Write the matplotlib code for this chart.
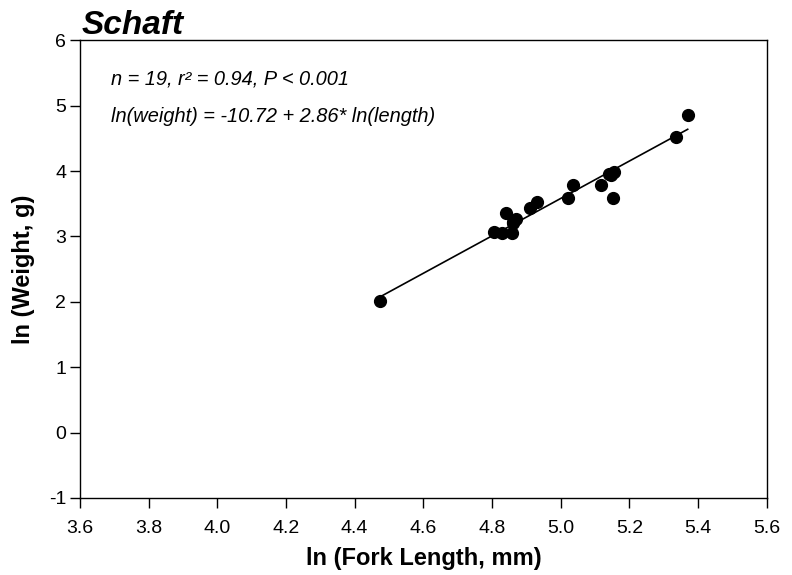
import matplotlib
matplotlib.use("Agg")
import matplotlib.pyplot as plt
import numpy as np

plt.rcParams['font.family'] = ['Liberation Sans', 'DejaVu Sans']
plt.rcParams['axes.unicode_minus'] = False

ln_length = [4.475, 4.806, 4.830, 4.857, 4.840, 4.861, 4.86, 4.871, 4.910, 4.931,
             5.022, 5.036, 5.117, 5.153, 5.148, 5.155, 5.14, 5.335, 5.370]
ln_weight = [2.01, 3.07, 3.05, 3.05, 3.36, 3.20, 3.22, 3.26, 3.43, 3.52,
             3.59, 3.79, 3.79, 3.58, 3.94, 3.99, 3.95, 4.52, 4.85]
intercept, slope = -10.72, 2.86
fit_range = [4.475, 5.37]
xticks = [3.6, 3.8, 4.0, 4.2, 4.4, 4.6, 4.8, 5.0, 5.2, 5.4, 5.6]
yticks = [-1, 0, 1, 2, 3, 4, 5, 6]

fig = plt.figure(figsize=(7.92, 5.75), dpi=100)
ax = fig.add_axes([0.101, 0.134, 0.867, 0.796])

xf = np.array(fit_range)
ax.plot(xf, intercept + slope * xf, color='black', lw=1.2, zorder=2)
ax.plot(ln_length, ln_weight, 'o', color='black', ms=8.5, zorder=3)

ax.set_xlim(3.6, 5.6)
ax.set_ylim(-1, 6)
ax.set_xticks(xticks)
ax.set_xticklabels([f"{v:.1f}" for v in xticks])
ax.set_yticks(yticks)
ax.set_yticklabels([str(v) for v in yticks])
ax.tick_params(direction='out', length=7, width=1, labelsize=14)
ax.tick_params(axis='x', pad=9)
ax.tick_params(axis='y', pad=3)
for s in ax.spines.values():
    s.set_linewidth(1)

ax.set_xlabel('ln (Fork Length, mm)', fontsize=17, fontweight='bold', labelpad=7)
ax.set_ylabel('ln (Weight, g)', fontsize=17, fontweight='bold', labelpad=10)

fig.text(0.103, 0.955, 'Schaft', fontsize=24, fontweight='bold', fontstyle='italic',
         ha='left', va='center')
ax.text(0.045, 0.915, 'n = 19, r² = 0.94, P < 0.001', transform=ax.transAxes,
        fontsize=14.4, fontstyle='italic', ha='left', va='center')
ax.text(0.045, 0.834, 'ln(weight) = -10.72 + 2.86* ln(length)', transform=ax.transAxes,
        fontsize=14.4, fontstyle='italic', ha='left', va='center')

fig.savefig('out.png', dpi=100)
